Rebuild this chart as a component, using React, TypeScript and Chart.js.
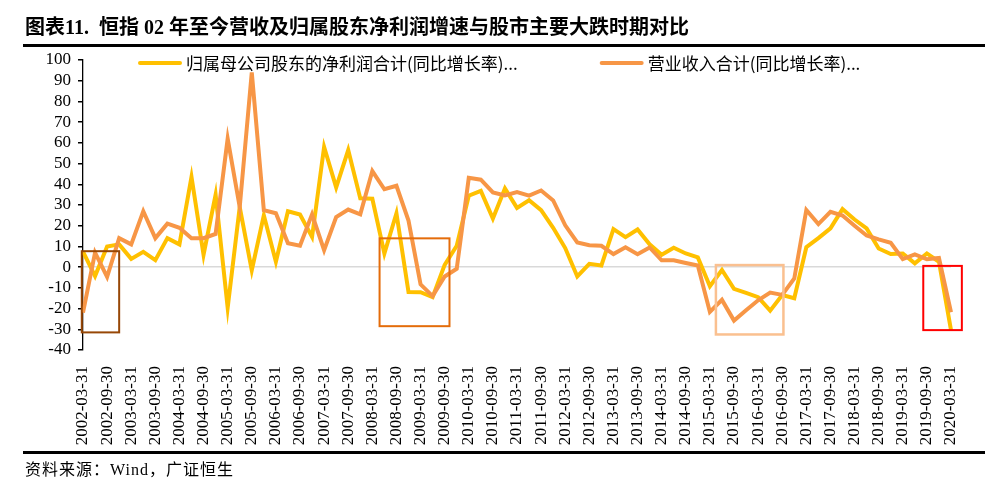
import { useEffect, useRef } from 'react';
import { Chart, registerables } from 'chart.js';

Chart.register(...registerables);

// Quarter-end report dates, 2002-03-31 .. 2020-03-31
const years = [2002, 2003, 2004, 2005, 2006, 2007, 2008, 2009, 2010, 2011, 2012, 2013, 2014, 2015, 2016, 2017, 2018, 2019, 2020];
const quarterEnds = ['03-31', '06-30', '09-30', '12-31'];
const quarters: string[] = years.flatMap((y) => quarterEnds.map((q) => `${y}-${q}`)).slice(0, 73);

// 归属母公司股东的净利润合计 同比增长率 (%)
const profitGrowth = [
  7.5, -4.3, 10, 11, 4, 7.4, 3.4, 14, 11, 43.6, 6, 35,
  -19.6, 29, -1.5, 25, 2.6, 27, 25.4, 14.6, 58, 38.5, 56.5, 33.2,
  33, 6.6, 26, -12, -12.1, -14.5, 1.1, 10.3, 34.5, 36.8, 23.5, 38,
  28.6, 32.3, 27.5, 19, 9.2, -4.5, 1.6, 0.8, 18.4, 14.5, 18.2, 11,
  6, 9.4, 6.6, 4.7, -9.2, -1.4, -10.5, -12.4, -14.5, -21, -13.5, -15,
  9.6, 14, 18.7, 28, 23, 18.7, 9, 6.3, 6.6, 1.8, 6.6, 2.6,
  -30.4,
];

// 营业收入合计 同比增长率 (%)
const revenueGrowth = [
  -22, 7, -4.7, 14, 11, 27, 14, 21, 19, 14, 14, 16,
  62, 29, 94, 27.5, 26, 11.5, 10.3, 25.5, 8.2, 24.2, 27.8, 25.5,
  46.4, 37.6, 39.3, 22.5, -8.3, -14, -4.5, -0.8, 43.1, 42.2, 36.1, 34.6,
  36.2, 34.5, 37, 32.2, 20.2, 11.9, 10.6, 10.3, 6.3, 9.6, 6.2, 9.5,
  3.3, 3.3, 2, 0.8, -21.6, -15.8, -25.8, -20.8, -16, -12.3, -13.4, -5.5,
  27.6, 20.8, 26.7, 24.9, 20, 15.3, 13.4, 11.8, 3.9, 6.2, 3.8, 4.4,
  -21.8,
];

// Highlighted market-drop periods: quarter index span and value span
const dropFrom = [-0.1, 24.6, 52.5, 69.7];
const dropTo = [3.0, 30.4, 58.1, 72.9];
const dropHigh = [7.7, 13.9, 1.0, 0.6];
const dropLow = [-31.5, -28.5, -32.5, -30.4];
const dropColors = ['#974706', '#E46C0A', '#FAC090', '#FF0000'];
const dropWidths = [2, 2, 2.5, 2];

const seriesNames = ['归属母公司股东的净利润合计(同比增长率)...', '营业收入合计(同比增长率)...'];
const seriesColors = ['#FFC000', '#F79646'];

const yMin = -40;
const yMax = 100;
const yStep = 10;

const dropBoxes = {
  id: 'dropBoxes',
  afterDatasetsDraw(chart: any) {
    const { ctx, scales } = chart;
    const xs = scales.x;
    const ys = scales.y;
    ctx.save();
    dropFrom.forEach((from, i) => {
      const x1 = xs.getPixelForValue(from);
      const x2 = xs.getPixelForValue(dropTo[i]);
      const y1 = ys.getPixelForValue(dropHigh[i]);
      const y2 = ys.getPixelForValue(dropLow[i]);
      ctx.strokeStyle = dropColors[i];
      ctx.lineWidth = dropWidths[i];
      ctx.strokeRect(x1, y1, x2 - x1, y2 - y1);
    });
    ctx.restore();
  },
};

const lineLegend = {
  id: 'lineLegend',
  afterDraw(chart: any) {
    const { ctx, chartArea } = chart;
    const y = chartArea.top + 3;
    ctx.save();
    ctx.font = '17px "Noto Sans CJK SC", sans-serif';
    ctx.textBaseline = 'middle';
    ctx.textAlign = 'left';
    let x = chartArea.left + 57;
    seriesNames.forEach((name, i) => {
      ctx.strokeStyle = seriesColors[i];
      ctx.lineWidth = 4;
      ctx.lineCap = 'round';
      ctx.beginPath();
      ctx.moveTo(x, y);
      ctx.lineTo(x + 40, y);
      ctx.stroke();
      ctx.fillStyle = '#000';
      ctx.fillText(name, x + 46, y + 1);
      x += 46 + ctx.measureText(name).width + 84;
    });
    ctx.restore();
  },
};

export default function App() {
  const canvasRef = useRef<HTMLCanvasElement>(null);

  useEffect(() => {
    const chart = new Chart(canvasRef.current as HTMLCanvasElement, {
      type: 'line',
      data: {
        labels: quarters,
        datasets: [
          {
            label: seriesNames[0],
            data: profitGrowth,
            borderColor: seriesColors[0],
            backgroundColor: seriesColors[0],
            borderWidth: 4,
            pointRadius: 0,
            tension: 0,
            order: 1,
          },
          {
            label: seriesNames[1],
            data: revenueGrowth,
            borderColor: seriesColors[1],
            backgroundColor: seriesColors[1],
            borderWidth: 4,
            pointRadius: 0,
            tension: 0,
            order: 0,
          },
        ],
      },
      options: {
        animation: false,
        responsive: true,
        maintainAspectRatio: false,
        layout: { padding: { left: 0, right: 47, top: 60, bottom: 0 } },
        plugins: {
          legend: { display: false },
          tooltip: { enabled: false },
        },
        scales: {
          x: {
            type: 'category',
            offset: false,
            grid: { display: false },
            border: { display: false },
            ticks: {
              autoSkip: false,
              maxRotation: 90,
              minRotation: 90,
              padding: 8,
              color: '#000',
              font: { family: '"Liberation Serif", "Times New Roman", serif', size: 17 },
              callback: (_v: any, i: number) => (i % 2 === 0 ? quarters[i] : ''),
            },
            afterFit: (s: any) => {
              s.height = 138;
            },
          },
          y: {
            min: yMin,
            max: yMax,
            ticks: {
              stepSize: yStep,
              autoSkip: false,
              padding: 7,
              color: '#000',
              font: { family: '"Liberation Serif", "Times New Roman", serif', size: 17 },
            },
            grid: {
              color: (c: any) => (c.tick && c.tick.value === 0 ? '#D9D9D9' : 'rgba(0,0,0,0)'),
              tickColor: '#000',
              tickLength: 5,
              lineWidth: 1.5,
            },
            border: { display: true, color: '#000', width: 1.3 },
            afterFit: (s: any) => {
              s.width = 83;
            },
          },
        },
      },
      plugins: [dropBoxes, lineLegend],
    });
    return () => chart.destroy();
  }, []);

  return (
    <div
      style={{
        position: 'fixed',
        left: 0,
        top: 0,
        width: 998,
        height: 488,
        background: '#fff',
        overflow: 'hidden',
      }}
    >
      <div style={{ position: 'absolute', left: 0, top: 0, width: 998, height: 488 }}>
        <canvas ref={canvasRef} />
      </div>
      <div
        style={{
          position: 'absolute',
          left: 25,
          top: 14,
          whiteSpace: 'nowrap',
          fontFamily: '"Liberation Serif", "Noto Sans CJK SC", serif',
          fontWeight: 700,
          fontSize: 20,
          lineHeight: '26px',
          color: '#000',
        }}
      >
        图表11.&nbsp;&nbsp;恒指 02 年至今营收及归属股东净利润增速与股市主要大跌时期对比
      </div>
      <div style={{ position: 'absolute', left: 23, top: 44, width: 962, height: 3, background: '#000' }} />
      <div style={{ position: 'absolute', left: 23, top: 451, width: 962, height: 3, background: '#000' }} />
      <div
        style={{
          position: 'absolute',
          left: 25,
          top: 459,
          whiteSpace: 'nowrap',
          fontFamily: '"Liberation Serif", "Noto Sans CJK SC", serif',
          fontSize: 16,
          letterSpacing: 1,
          lineHeight: '22px',
          color: '#000',
        }}
      >
        资料来源：Wind，广证恒生
      </div>
    </div>
  );
}
